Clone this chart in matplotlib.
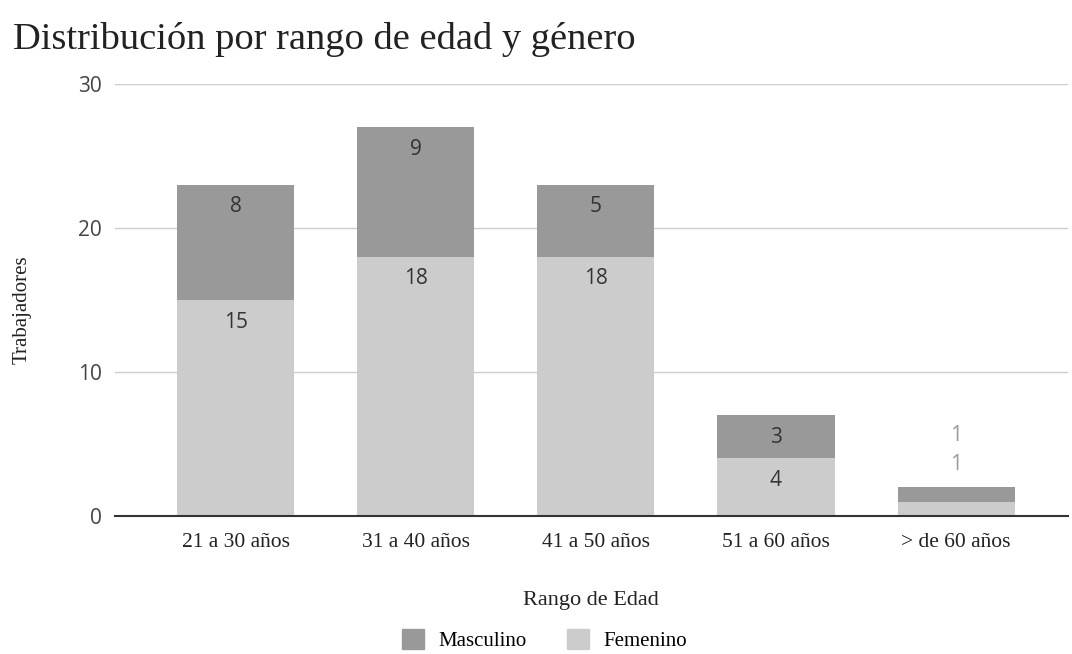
import matplotlib.pyplot as plt
from matplotlib.patches import Patch

# data
categories = ['21 a 30 años', '31 a 40 años', '41 a 50 años', '51 a 60 años', '> de 60 años']
femenino = [15, 18, 18, 4, 1]
masculino = [8, 9, 5, 3, 1]

c_masc = '#999999'
c_fem = '#cccccc'

fig = plt.figure(figsize=(10.72, 6.54), dpi=100)
ax = fig.add_axes([0.107, 0.211, 0.889, 0.661])

x = list(range(len(categories)))
ax.bar(x, femenino, width=0.65, color=c_fem, zorder=2)
ax.bar(x, masculino, bottom=femenino, width=0.65, color=c_masc, zorder=2)

# value labels
for i in x:
    f, m = femenino[i], masculino[i]
    if f + m >= 5:
        ax.annotate(str(f), (i, f), xytext=(0, -16), textcoords='offset points',
                    ha='center', va='center', fontsize=15, color='#333333', family='Open Sans')
        ax.annotate(str(m), (i, f + m), xytext=(0, -16), textcoords='offset points',
                    ha='center', va='center', fontsize=15, color='#333333', family='Open Sans')
    else:
        ax.annotate(str(f), (i, f + m), xytext=(0, 16), textcoords='offset points',
                    ha='center', va='center', fontsize=15, color='#9a9a9a', family='Open Sans')
        ax.annotate(str(m), (i, f + m), xytext=(0, 37), textcoords='offset points',
                    ha='center', va='center', fontsize=15, color='#9a9a9a', family='Open Sans')

ax.set_ylim(0, 30)
ax.set_xlim(-0.672, 4.62)
ax.set_yticks([0, 10, 20, 30])
ax.set_xticks(x)
ax.set_xticklabels(categories, family='Liberation Serif', fontsize=15.5, color='#222222')
for lab in ax.get_yticklabels():
    lab.set_family('Open Sans')
    lab.set_fontsize(15)
    lab.set_color('#444444')
ax.tick_params(length=0)
ax.tick_params(axis='y', pad=9)
ax.tick_params(axis='x', pad=12)
ax.grid(axis='y', color='#cccccc', linewidth=1, zorder=0)
for s in ['top', 'right', 'left']:
    ax.spines[s].set_visible(False)
ax.spines['bottom'].set_color('#333333')
ax.spines['bottom'].set_linewidth(1.5)
ax.spines['bottom'].set_zorder(3)

ax.set_xlabel('Rango de Edad', family='Liberation Serif', fontsize=16, color='#222222', labelpad=28)
fig.text(0.021, 0.527, 'Trabajadores', rotation=90, family='Liberation Serif', fontsize=15,
         color='#222222', ha='center', va='center')

fig.text(0.012, 0.94, 'Distribución por rango de edad y género', family='Liberation Serif',
         fontsize=27.7, color='#222222', ha='left', va='center')

# legend
handles = [Patch(color=c_masc), Patch(color=c_fem)]
fig.legend(handles, ['Masculino', 'Femenino'], loc='center', bbox_to_anchor=(0.508, 0.021),
           ncol=2, frameon=False, prop={'family': 'Liberation Serif', 'size': 15},
           handlelength=1.05, handleheight=1.05, columnspacing=1.9, handletextpad=0.7)

fig.savefig('out.png', dpi=100)
